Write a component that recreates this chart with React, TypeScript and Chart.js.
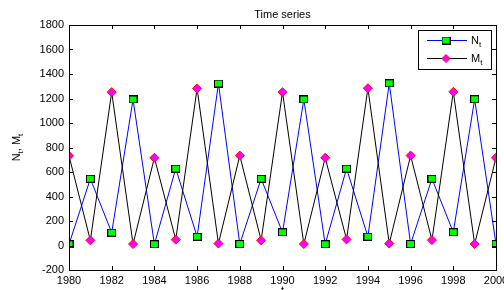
import React, { useEffect, useRef } from "react";
import { Chart, registerables } from "chart.js";
Chart.register(...registerables);

const years = [1980, 1981, 1982, 1983, 1984, 1985, 1986, 1987, 1988, 1989, 1990, 1991, 1992, 1993, 1994, 1995, 1996, 1997, 1998, 1999, 2000];
const nValues = [10, 545, 105, 1192, 10, 628, 72, 1322, 12, 545, 107, 1192, 10, 628, 72, 1324, 12, 545, 108, 1194, 12];
const mValues = [732, 42, 1252, 12, 716, 48, 1282, 16, 734, 42, 1252, 12, 716, 50, 1284, 16, 734, 44, 1254, 12, 716];
const titleText = "Time series";
const xLabelText = "t";
const FONT = "'Liberation Sans', Arial, sans-serif";

function makeSquare(): HTMLCanvasElement {
  const c = document.createElement("canvas");
  c.width = 9;
  c.height = 8;
  const ctx = c.getContext("2d")!;
  ctx.fillStyle = "#00ff00";
  ctx.fillRect(0, 0, 9, 8);
  ctx.strokeStyle = "#000000";
  ctx.lineWidth = 1;
  ctx.strokeRect(0.5, 0.5, 8, 7);
  return c;
}

function drawSub(ctx: CanvasRenderingContext2D, x: number, y: number, main: string, sub: string, size: number) {
  ctx.font = `${size}px ${FONT}`;
  ctx.textBaseline = "middle";
  ctx.textAlign = "left";
  ctx.fillText(main, x, y);
  const w = ctx.measureText(main).width;
  ctx.font = `${Math.round(size * 0.72)}px ${FONT}`;
  ctx.fillText(sub, x + w, y + size * 0.35);
  const w2 = ctx.measureText(sub).width;
  return w + w2;
}

export default function App() {
  const ref = useRef<HTMLCanvasElement>(null);
  useEffect(() => {
    const square = makeSquare();
    const deco = {
      id: "deco",
      afterDraw(chart: any) {
        const { ctx, chartArea } = chart;
        const { left, right, top, bottom } = chartArea;
        const xs = chart.scales.x;
        const ys = chart.scales.y;
        ctx.save();
        ctx.strokeStyle = "#000";
        ctx.lineWidth = 1;
        ctx.strokeRect(Math.round(left) + 0.5, Math.round(top) + 0.5, Math.round(right - left), Math.round(bottom - top));
        const tl = 4;
        ctx.beginPath();
        xs.ticks.forEach((t: any) => {
          const px = Math.round(xs.getPixelForValue(t.value)) + 0.5;
          ctx.moveTo(px, bottom);
          ctx.lineTo(px, bottom - tl);
          ctx.moveTo(px, top);
          ctx.lineTo(px, top + tl);
        });
        ys.ticks.forEach((t: any) => {
          const py = Math.round(ys.getPixelForValue(t.value)) + 0.5;
          ctx.moveTo(left, py);
          ctx.lineTo(left + tl, py);
          ctx.moveTo(right, py);
          ctx.lineTo(right - tl, py);
        });
        ctx.stroke();

        ctx.fillStyle = "#000";
        // title
        ctx.font = `11px ${FONT}`;
        ctx.textAlign = "center";
        ctx.textBaseline = "middle";
        ctx.fillText(titleText, (left + right) / 2, 15);
        // x label
        ctx.textBaseline = "top";
        ctx.fillText(xLabelText, (left + right) / 2, 285);

        // y label rotated
        ctx.save();
        ctx.translate(17, (top + bottom) / 2);
        ctx.rotate(-Math.PI / 2);
        ctx.font = `11px ${FONT}`;
        const parts: [string, string][] = [["N", "t"], [", M", "t"]];
        let total = 0;
        parts.forEach(([a, b]) => {
          ctx.font = `11px ${FONT}`;
          total += ctx.measureText(a).width;
          ctx.font = `8px ${FONT}`;
          total += ctx.measureText(b).width;
        });
        let x = -total / 2;
        parts.forEach(([a, b]) => {
          x += drawSub(ctx, x, 0, a, b, 11);
        });
        ctx.restore();

        // legend
        const lx = 418.5, ly = 30.5, lw = 73, lh = 39;
        ctx.fillStyle = "#fff";
        ctx.fillRect(lx, ly, lw, lh);
        ctx.strokeStyle = "#000";
        ctx.strokeRect(lx, ly, lw, lh);
        const rows = [
          { y: 40.5, color: "#0000ff", main: "N", kind: "sq" },
          { y: 58.5, color: "#000000", main: "M", kind: "di" },
        ];
        rows.forEach((r) => {
          ctx.strokeStyle = r.color;
          ctx.beginPath();
          ctx.moveTo(427, r.y);
          ctx.lineTo(467, r.y);
          ctx.stroke();
          if (r.kind === "sq") {
            ctx.drawImage(square, 446 - 4.5, r.y - 4);
          } else {
            ctx.beginPath();
            ctx.moveTo(446, r.y - 4);
            ctx.lineTo(450, r.y);
            ctx.lineTo(446, r.y + 4);
            ctx.lineTo(442, r.y);
            ctx.closePath();
            ctx.fillStyle = "#ff00ff";
            ctx.fill();
            ctx.strokeStyle = "#ff0000";
            ctx.stroke();
          }
          ctx.fillStyle = "#000";
          drawSub(ctx, 471, r.y, r.main, "t", 11);
        });
        ctx.restore();
      },
    };

    const chart = new Chart(ref.current!, {
      type: "line",
      data: {
        datasets: [
          {
            label: "M",
            data: years.map((y, i) => ({ x: y, y: mValues[i] })),
            borderColor: "#000000",
            borderWidth: 1,
            pointStyle: "rectRot",
            pointRadius: 4.5,
            pointBackgroundColor: "#ff00ff",
            pointBorderColor: "#ff0000",
            pointBorderWidth: 1,
            tension: 0,
            order: 1,
          },
          {
            label: "N",
            data: years.map((y, i) => ({ x: y, y: nValues[i] })),
            borderColor: "#0000ff",
            borderWidth: 1,
            pointStyle: square as any,
            pointRadius: 4,
            tension: 0,
            order: 2,
          },
        ],
      },
      options: {
        animation: false,
        responsive: false,
        maintainAspectRatio: false,
        events: [],
        layout: { padding: { left: 0, right: 8, top: 25, bottom: 0 } },
        plugins: { legend: { display: false }, tooltip: { enabled: false }, title: { display: false } },
        scales: {
          x: {
            type: "linear",
            min: 1980,
            max: 2000,
            grid: { display: false, drawTicks: false },
            border: { display: false },
            ticks: {
              stepSize: 2,
              padding: 4,
              color: "#000",
              font: { family: FONT, size: 11 },
              maxRotation: 0,
              autoSkip: false,
              callback: (v: any) => String(v),
            },
            afterFit: (s: any) => {
              s.height = 20;
              s.paddingLeft = 0;
              s.paddingRight = 0;
            },
          },
          y: {
            min: -200,
            max: 1800,
            grid: { display: false, drawTicks: false },
            border: { display: false },
            ticks: {
              stepSize: 200,
              padding: 5,
              color: "#000",
              font: { family: FONT, size: 11 },
              callback: (v: any) => String(v),
            },
            afterFit: (s: any) => {
              s.width = 69;
              s.paddingTop = 0;
              s.paddingBottom = 0;
            },
          },
        },
      },
      plugins: [deco],
    } as any);
    return () => chart.destroy();
  }, []);
  return (
    <div style={{ position: "fixed", left: 0, top: 0, width: 504, height: 290, background: "#fff" }}>
      <canvas ref={ref} width={504} height={290} style={{ display: "block", width: 504, height: 290 }} />
    </div>
  );
}
